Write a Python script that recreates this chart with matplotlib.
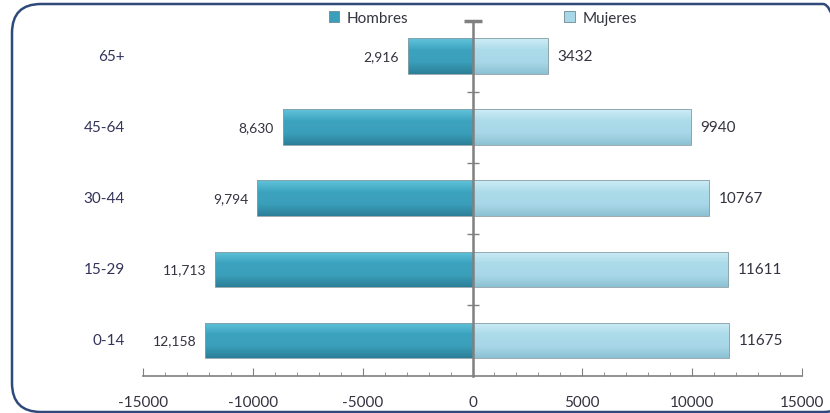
import numpy as np
import matplotlib
matplotlib.use('agg')
import matplotlib.pyplot as plt
from matplotlib.patches import FancyBboxPatch
from matplotlib.colors import LinearSegmentedColormap

# datos
grupos = ['0-14', '15-29', '30-44', '45-64', '65+']
hombres = [12158, 11713, 9794, 8630, 2916]
mujeres = [11675, 11611, 10767, 9940, 3432]
xticks = [-15000, -10000, -5000, 0, 5000, 10000, 15000]

plt.rcParams['font.family'] = ['Lato', 'DejaVu Sans']
txt = '#333340'

fig = plt.figure(figsize=(8.3, 4.14), dpi=100)
ax = fig.add_axes([143/830, 1-377/414, 659/830, (377-21.5)/414])

y = np.arange(len(grupos))
bh = ax.barh(y, [-v for v in hombres], height=0.5, color='#3a9fba', label='Hombres')
bm = ax.barh(y, mujeres, height=0.5, color='#a8d8e8', label='Mujeres')

# gradiente tipo bisel
cm_h = LinearSegmentedColormap.from_list('h', ['#2c7f98', '#3a9fba', '#3ca3be', '#62c4dc'])
cm_m = LinearSegmentedColormap.from_list('m', ['#8cc1d3', '#a8d8e8', '#acdbe9', '#cdedf6'])
grad = np.linspace(0, 1, 100).reshape(-1, 1)
for bars, cmap in [(bh, cm_h), (bm, cm_m)]:
    for p in bars:
        x0, y0 = p.get_x(), p.get_y()
        w, h = p.get_width(), p.get_height()
        im = ax.imshow(grad, cmap=cmap, aspect='auto', origin='lower',
                       extent=[x0, x0 + w, y0, y0 + h], zorder=2)
        im.set_clip_path(p)
        p.set_edgecolor('#8a9ea5')
        p.set_linewidth(0.6)
        p.set_facecolor('none')
        p.set_zorder(3)

for i in range(len(grupos)):
    ax.text(-hombres[i] - 420, y[i], f'{hombres[i]:,}', ha='right', va='center',
            fontsize=10, color=txt)
    ax.text(mujeres[i] + 450, y[i], f'{mujeres[i]}', ha='left', va='center',
            fontsize=11, color=txt)
    ax.text(-0.028, y[i], grupos[i], transform=ax.get_yaxis_transform(),
            ha='right', va='center', fontsize=11, color='#33335a')

ax.set_xlim(-15000, 15000)
ax.set_ylim(-0.5, 4.5)

# eje vertical en cero
ax.spines['left'].set_position(('data', 0))
ax.spines['left'].set_color('#808080')
ax.spines['left'].set_linewidth(1.8)
ax.spines['left'].set_zorder(4)
ax.set_yticks(y[:-1] + 0.5)
ax.set_yticklabels([])
ax.tick_params(axis='y', direction='inout', length=8, color='#808080', width=1)
ax.plot([0], [4.5], marker='_', markersize=13, color='#808080', mew=2.5,
        clip_on=False, zorder=5)

ax.spines['top'].set_visible(False)
ax.spines['right'].set_visible(False)
ax.spines['bottom'].set_color('#808080')
ax.spines['bottom'].set_linewidth(1.2)
ax.set_xticks(xticks)
ax.set_xticklabels([str(v) for v in xticks], fontsize=11, color=txt)
ax.set_xticks(np.arange(-15000, 15001, 1000), minor=True)
ax.tick_params(axis='x', which='major', direction='in', length=6, color='#808080', pad=14)
ax.tick_params(axis='x', which='minor', direction='in', length=3, color='#808080')

leg = ax.legend(loc='upper left', bbox_to_anchor=(321/830, 1-4/414),
                bbox_transform=fig.transFigure, ncol=2, frameon=False,
                fontsize=11, handlelength=0.7, handleheight=0.7,
                handletextpad=0.5, columnspacing=10.2, borderpad=0, labelcolor=txt)
leg.legend_handles[0].set_facecolor('#3a9fba')
leg.legend_handles[1].set_facecolor('#a8d8e8')
for hd in leg.legend_handles:
    hd.set_edgecolor('#6d8a94')
    hd.set_linewidth(0.6)

box = FancyBboxPatch((12/830, 1-413/414), 840/830, 408/414,
                     boxstyle='round,pad=0,rounding_size=0.035',
                     transform=fig.transFigure, fill=False,
                     edgecolor='#2f4a7a', linewidth=1.8, mutation_aspect=2.0)
fig.patches.append(box)

plt.savefig('out.png', dpi=100)
plt.close()
